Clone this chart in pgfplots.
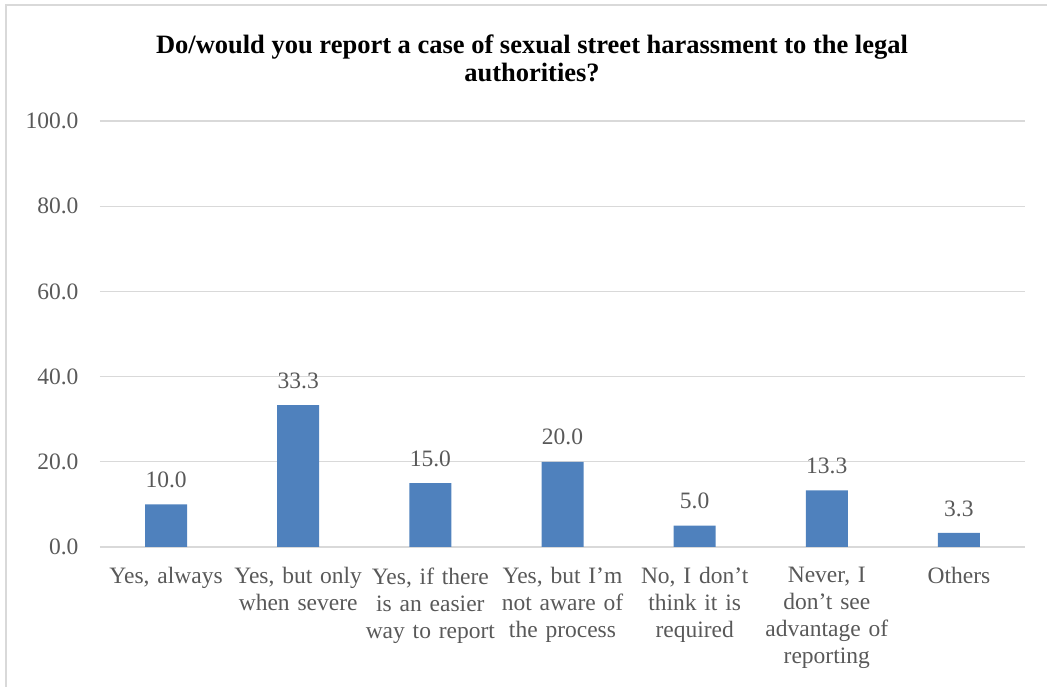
\documentclass[border=0pt]{standalone}
\usepackage{pgfplots}
\pgfplotsset{compat=1.18}
\usepackage{fontspec}
\setmainfont{Liberation Serif}
\definecolor{barblue}{HTML}{4F81BD}
\definecolor{txtgray}{HTML}{595959}
\definecolor{gridgray}{HTML}{D9D9D9}
\begin{document}
\begin{tikzpicture}[x=1pt,y=1pt]
\useasboundingbox (-100,-140) rectangle (947,547);
\draw[gridgray,line width=2pt] (-94,-150) -- (-94,542) -- (960,542);
\begin{axis}[
  at={(0,0)}, anchor=south west,
  scale only axis, width=925pt, height=426pt,
  ymin=0, ymax=100, ytick={0,20,40,60,80,100},
  xmin=-0.5, xmax=6.5, xtick=data,
  xticklabels={{Yes, always},{Yes, but only\\when severe},{Yes, if there\\is an easier\\way to report},{Yes, but I'm\\not aware of\\the process},{No, I don't\\think it is\\required},{Never, I\\don't see\\advantage of\\reporting},{Others}},
  xticklabel style={text width=135pt, align=center, font=\fontsize{23.5}{27}\selectfont, text=txtgray, anchor=north, yshift=-17pt},
  yticklabel style={font=\fontsize{23.5}{26}\selectfont, text=txtgray, xshift=-18pt},
  /pgf/number format/assume math mode=true,
  yticklabel={\pgfmathprintnumber[fixed,fixed zerofill,precision=1]{\tick}},
  ymajorgrids, grid style={gridgray, line width=1.2pt},
  axis line style={draw=none},
  major tick length=0pt,
  extra y ticks={0}, extra y tick labels={},
  extra y tick style={grid style={gridgray,line width=1.5pt}},
  ybar, bar width=42pt,
  nodes near coords={\pgfmathprintnumber[fixed,fixed zerofill,precision=1]{\pgfplotspointmeta}},
  nodes near coords style={font=\fontsize{23.5}{26}\selectfont, text=txtgray, /pgf/number format/assume math mode=true, yshift=13pt},
  clip=false,
]
\addplot[fill=barblue, draw=none] coordinates {(0,10.0) (1,33.3) (2,15.0) (3,20.0) (4,5.0) (5,13.3) (6,3.3)};
\end{axis}
\node[font=\bfseries\fontsize{26.5}{28}\selectfont, align=center, anchor=north] at (432,516) {Do/would you report a case of sexual street harassment to the legal\\authorities?};
\end{tikzpicture}
\end{document}
